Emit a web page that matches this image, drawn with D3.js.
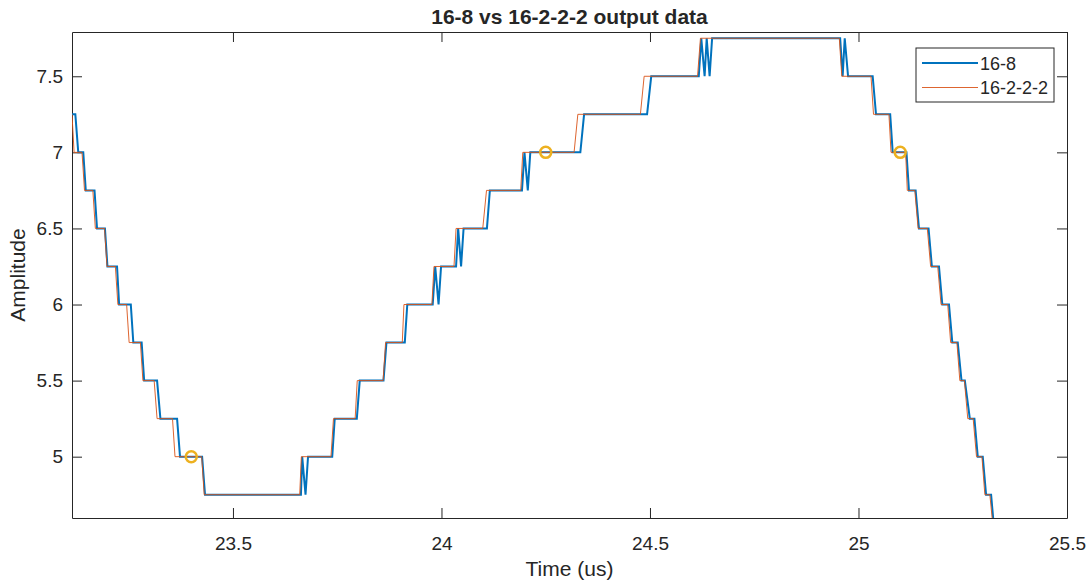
<!DOCTYPE html>
<html>
<head>
<meta charset="utf-8">
<script src="https://cdn.jsdelivr.net/npm/d3@7"></script>
<style>
  html, body { margin: 0; padding: 0; background: #fff; overflow: hidden; }
  svg { display: block; }
  text { font-family: "Liberation Sans", Arial, sans-serif; fill: #262626; }
</style>
</head>
<body>
<svg width="1089" height="583"></svg>
<script>
// ---- data ----
const blueTime = [23.100, 23.122, 23.129, 23.141, 23.147, 23.168, 23.174, 23.193, 23.199, 23.222, 23.227,
  23.255, 23.261, 23.281, 23.287, 23.318, 23.326, 23.366, 23.373, 23.426, 23.433,
  23.663, 23.666, 23.674, 23.680, 23.738, 23.744, 23.797, 23.804, 23.861, 23.868, 23.912, 23.918,
  23.979, 23.985, 23.993, 23.999, 24.035, 24.040, 24.047, 24.053, 24.109, 24.116,
  24.193, 24.199, 24.207, 24.213, 24.333, 24.342, 24.493, 24.503,
  24.617, 24.623, 24.631, 24.636, 24.643, 24.649,
  24.956, 24.962, 24.967, 24.975, 25.034, 25.042, 25.076, 25.082, 25.115, 25.121,
  25.137, 25.145, 25.168, 25.176, 25.193, 25.201, 25.217, 25.225, 25.238, 25.247,
  25.255, 25.267, 25.278, 25.286, 25.298, 25.306, 25.318, 25.326];
const blueAmp = [7.25, 7.25, 7.00, 7.00, 6.75, 6.75, 6.50, 6.50, 6.25, 6.25, 6.00,
  6.00, 5.75, 5.75, 5.50, 5.50, 5.25, 5.25, 5.00, 5.00, 4.75,
  4.75, 5.00, 4.75, 5.00, 5.00, 5.25, 5.25, 5.50, 5.50, 5.75, 5.75, 6.00,
  6.00, 6.25, 6.00, 6.25, 6.25, 6.50, 6.25, 6.50, 6.50, 6.75,
  6.75, 7.00, 6.75, 7.00, 7.00, 7.25, 7.25, 7.50,
  7.50, 7.75, 7.50, 7.75, 7.50, 7.75,
  7.75, 7.50, 7.75, 7.50, 7.50, 7.25, 7.25, 7.00, 7.00, 6.75,
  6.75, 6.50, 6.50, 6.25, 6.25, 6.00, 6.00, 5.75, 5.75, 5.50,
  5.50, 5.25, 5.25, 5.00, 5.00, 4.75, 4.75, 4.50];

const orangeTime = [23.100, 23.114, 23.119, 23.138, 23.144, 23.164, 23.170, 23.192, 23.198, 23.218, 23.224,
  23.245, 23.251, 23.278, 23.284, 23.311, 23.318, 23.355, 23.361, 23.425, 23.431,
  23.660, 23.664, 23.735, 23.741, 23.793, 23.798, 23.860, 23.866, 23.906, 23.910,
  23.977, 23.982, 24.030, 24.035, 24.099, 24.108, 24.190, 24.195, 24.318, 24.327,
  24.477, 24.486, 24.614, 24.621, 24.954, 24.960, 25.030, 25.036, 25.073, 25.078,
  25.113, 25.117, 25.135, 25.143, 25.165, 25.173, 25.190, 25.198, 25.214, 25.221,
  25.236, 25.243, 25.254, 25.262, 25.275, 25.283, 25.296, 25.303, 25.315, 25.324];
const orangeAmp = [7.25, 7.25, 7.00, 7.00, 6.75, 6.75, 6.50, 6.50, 6.25, 6.25, 6.00,
  6.00, 5.75, 5.75, 5.50, 5.50, 5.25, 5.25, 5.00, 5.00, 4.75,
  4.75, 5.00, 5.00, 5.25, 5.25, 5.50, 5.50, 5.75, 5.75, 6.00,
  6.00, 6.25, 6.25, 6.50, 6.50, 6.75, 6.75, 7.00, 7.00, 7.25,
  7.25, 7.50, 7.50, 7.75, 7.75, 7.50, 7.50, 7.25, 7.25, 7.00,
  7.00, 6.75, 6.75, 6.50, 6.50, 6.25, 6.25, 6.00, 6.00, 5.75,
  5.75, 5.50, 5.50, 5.25, 5.25, 5.00, 5.00, 4.75, 4.75, 4.50];

const markTime = [23.40, 24.25, 25.10];
const markAmp  = [5.00, 7.00, 7.00];

const xTicks = [23.5, 24, 24.5, 25, 25.5];
const yTicks = [5, 5.5, 6, 6.5, 7, 7.5];
const seriesNames = ['16-8', '16-2-2-2'];

// ---- layout ----
const svg = d3.select('svg');
const margin = { top: 32, left: 72, right: 22, bottom: 65 };
const width = +svg.attr('width'), height = +svg.attr('height');
const innerWidth = width - margin.left - margin.right;
const innerHeight = height - margin.top - margin.bottom;

const g = svg.append('g').attr('transform', `translate(${margin.left},${margin.top})`);

const xScale = d3.scaleLinear().domain([23.114, 25.5]).range([0, innerWidth]);
const yScale = d3.scaleLinear().domain([4.597, 7.791]).range([innerHeight, 0]);

g.append('clipPath').attr('id', 'plot-clip')
  .append('rect').attr('width', innerWidth).attr('height', innerHeight);

// axes, ticks pointing inwards like matlab
const tickLen = 10;
const styleAxis = sel => {
  sel.selectAll('.domain').attr('stroke', '#262626');
  sel.selectAll('.tick line').attr('stroke', '#262626');
  sel.selectAll('text').attr('font-size', 19).attr('fill', '#262626')
    .attr('font-family', '"Liberation Sans", Arial, sans-serif');
};

g.append('g').attr('transform', `translate(0,${innerHeight})`)
  .call(d3.axisBottom(xScale).tickValues(xTicks).tickSizeInner(-tickLen).tickSizeOuter(0).tickPadding(18.5).tickFormat(d3.format('')))
  .call(styleAxis);
g.append('g')
  .call(d3.axisTop(xScale).tickValues(xTicks).tickSizeInner(-tickLen).tickSizeOuter(0))
  .call(styleAxis)
  .selectAll('text').remove();
g.append('g')
  .call(d3.axisLeft(yScale).tickValues(yTicks).tickSizeInner(-tickLen).tickSizeOuter(0).tickPadding(9).tickFormat(d3.format('')))
  .call(styleAxis);
g.append('g').attr('transform', `translate(${innerWidth},0)`)
  .call(d3.axisRight(yScale).tickValues(yTicks).tickSizeInner(-tickLen).tickSizeOuter(0))
  .call(styleAxis)
  .selectAll('text').remove();

// ---- lines ----
const line = d3.line().x(d => xScale(d[0])).y(d => yScale(d[1]));
const plot = g.append('g').attr('clip-path', 'url(#plot-clip)');

plot.append('path')
  .attr('d', line(d3.zip(blueTime, blueAmp)))
  .attr('fill', 'none').attr('stroke', '#0072BD').attr('stroke-width', 2);
plot.append('path')
  .attr('d', line(d3.zip(orangeTime, orangeAmp)))
  .attr('fill', 'none').attr('stroke', '#D95319').attr('stroke-width', 0.9);

plot.selectAll('.mark').data(d3.zip(markTime, markAmp)).join('circle')
  .attr('class', 'mark')
  .attr('cx', d => xScale(d[0])).attr('cy', d => yScale(d[1]))
  .attr('r', 5.5).attr('fill', 'none').attr('stroke', '#EDB120').attr('stroke-width', 2.5);

// ---- legend ----
const legend = svg.append('g').attr('transform', 'translate(916,48)');
legend.append('rect').attr('width', 138).attr('height', 54)
  .attr('fill', '#fff').attr('stroke', '#262626').attr('stroke-width', 1);
const legendColors = ['#0072BD', '#D95319'];
const legendWidths = [2, 0.9];
seriesNames.forEach((name, i) => {
  const y = 15 + i * 24.5;
  legend.append('line').attr('x1', 6).attr('x2', 62).attr('y1', y).attr('y2', y)
    .attr('stroke', legendColors[i]).attr('stroke-width', legendWidths[i]);
  legend.append('text').attr('x', 64).attr('y', y + 6.5).attr('font-size', 18).text(name);
});

// ---- titles ----
svg.append('text')
  .attr('x', margin.left + innerWidth / 2).attr('y', 24)
  .attr('text-anchor', 'middle').attr('font-size', 21).attr('font-weight', 'bold')
  .attr('fill', '#000')
  .text('16-8 vs 16-2-2-2 output data');

svg.append('text')
  .attr('x', margin.left + innerWidth / 2).attr('y', 576)
  .attr('text-anchor', 'middle').attr('font-size', 21)
  .text('Time (us)');

svg.append('text')
  .attr('transform', `translate(25,${margin.top + innerHeight / 2}) rotate(-90)`)
  .attr('text-anchor', 'middle').attr('font-size', 21)
  .text('Amplitude');
</script>
</body>
</html>
